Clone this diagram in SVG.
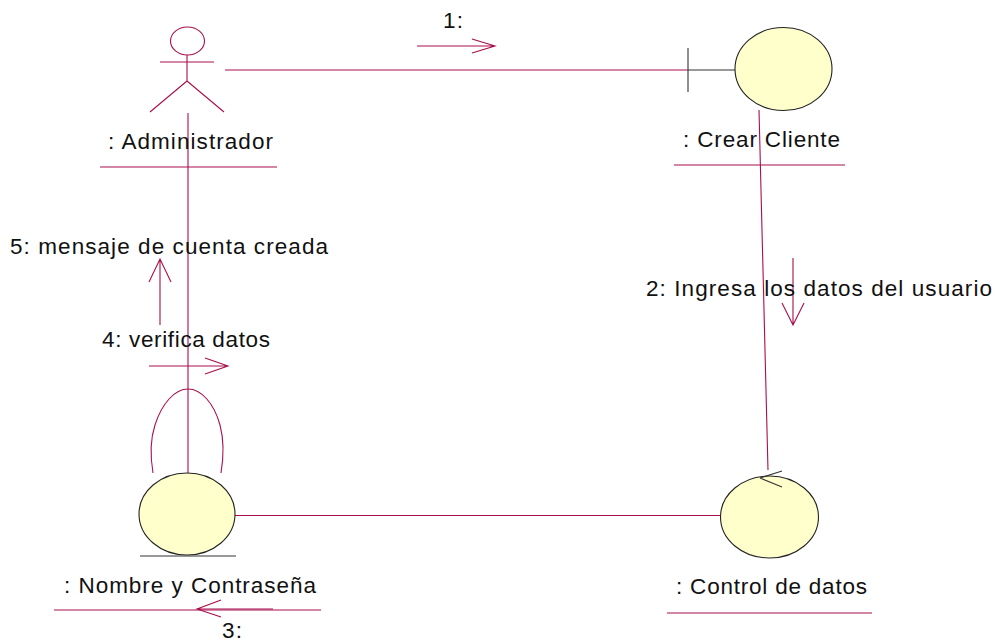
<svg xmlns="http://www.w3.org/2000/svg" width="996" height="642" viewBox="0 0 996 642">
<style>
.l{fill:none;stroke:#a80f4c;stroke-width:1.1}
.d{fill:none;stroke:#333;stroke-width:1.1}
.o{fill:#ffffcc;stroke:#222;stroke-width:1.1}
text{font-family:"Liberation Sans",Arial,sans-serif;font-size:22.5px;fill:#111}
</style>
<rect width="996" height="642" fill="#fff"/>
<g id="connectors">
<path class="l" d="M225 70H688"/>
<path class="d" d="M688 70H735M688 48V92"/>
<path class="l" d="M188 113V473"/>
<path class="l" d="M759 110L768 470"/>
<path class="l" d="M235 515.500H720"/>
<path class="l" d="M153 473C150 455 150 440 155 425C162 403 175 389 188 389C201 389 214 403 220 425C224 440 224 455 221 473"/>
</g>
<g id="messages">
<path class="l" d="M417 46H495M472 39L495 46L472 53"/>
<text x="443" y="28" textLength="20" lengthAdjust="spacing">1:</text>
<path class="l" d="M793 258V325M782 303L793 325L804 303"/>
<text x="646" y="296" textLength="346" lengthAdjust="spacing">2: Ingresa los datos del usuario</text>
<path class="l" d="M273 609H197M221 600L197 609L221 617"/>
<text x="222" y="638" textLength="20" lengthAdjust="spacing">3:</text>
<path class="l" d="M149 366H228M205 358L228 366L205 374"/>
<text x="102" y="347" textLength="168" lengthAdjust="spacing">4: verifica datos</text>
<path class="l" d="M160 325V259M149 282L160 259L171 282"/>
<text x="10" y="254" textLength="318" lengthAdjust="spacing">5: mensaje de cuenta creada</text>
</g>
<g id="administrador">
<ellipse class="l" cx="187.500" cy="41" rx="17" ry="14"/>
<path class="l" d="M160 62H214M187 55V81M187 81L150 112M187 81L224 112"/>
<text x="108" y="149" textLength="165" lengthAdjust="spacing">: Administrador</text>
<path class="l" d="M100 167H277"/>
</g>
<g id="crear-cliente">
<ellipse class="o" cx="783.500" cy="69" rx="48.500" ry="41.500"/>
<text x="683" y="147" textLength="157" lengthAdjust="spacing">: Crear Cliente</text>
<path class="l" d="M674 165H845"/>
</g>
<g id="nombre-contrasena">
<ellipse class="o" cx="187" cy="514" rx="48" ry="41"/>
<path class="d" d="M140 556H236"/>
<text x="64" y="593" textLength="252" lengthAdjust="spacing">: Nombre y Contraseña</text>
<path class="l" d="M54 610H321"/>
</g>
<g id="control-datos">
<ellipse class="o" cx="769.500" cy="517" rx="49" ry="41"/>
<path class="d" d="M760 478L782 471M760 478L782 487"/>
<text x="676" y="594" textLength="191" lengthAdjust="spacing">: Control de datos</text>
<path class="l" d="M667 613H872"/>
</g>
</svg>
